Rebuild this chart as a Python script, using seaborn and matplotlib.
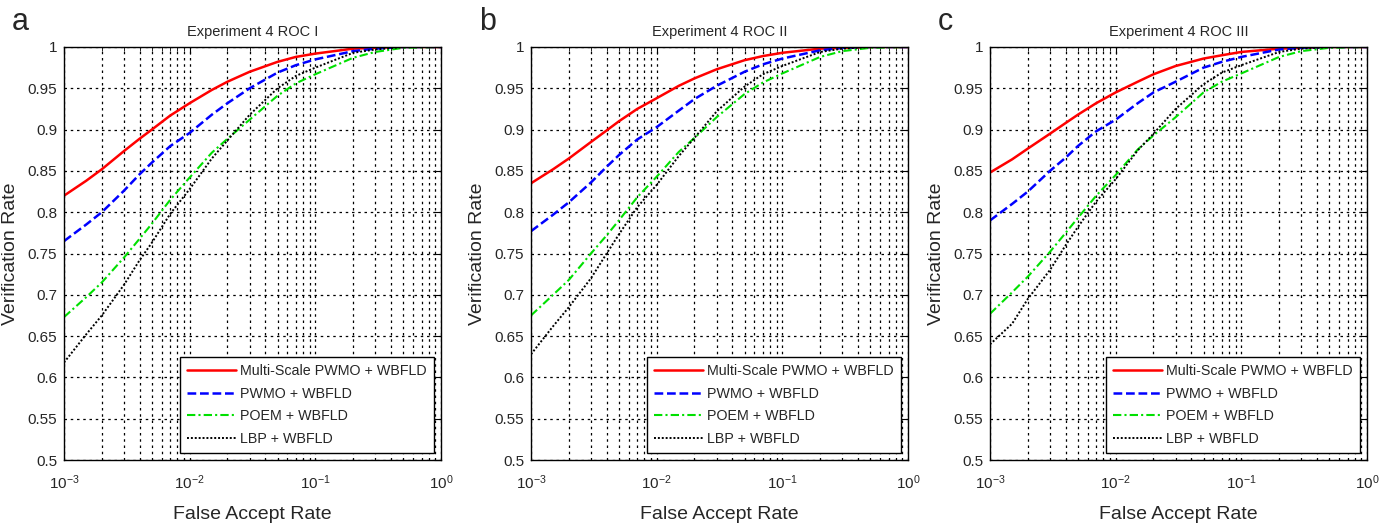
import numpy as np
import pandas as pd
import matplotlib
matplotlib.use("Agg")
import matplotlib.pyplot as plt
import seaborn as sns
from matplotlib.ticker import LogLocator, FixedLocator, FormatStrFormatter

# Valores (FAR en escala log)
far = [1e-3, 1.5e-3, 2e-3, 3e-3, 4e-3, 5e-3, 7e-3, 1e-2, 1.5e-2, 2e-2,
       3e-2, 5e-2, 7e-2, 1e-1, 2e-1, 3e-1, 5e-1, 1.0]

methods = ["Multi-Scale PWMO + WBFLD", "PWMO + WBFLD", "POEM + WBFLD", "LBP + WBFLD"]
titles = ["Experiment 4 ROC I", "Experiment 4 ROC II", "Experiment 4 ROC III"]
letters = ["a", "b", "c"]

# ROC I
roc1_multi = [0.820, 0.838, 0.852, 0.874, 0.889, 0.900, 0.917, 0.932, 0.948, 0.958,
              0.970, 0.982, 0.988, 0.992, 0.998, 0.999, 1.0, 1.0]
roc1_pwmo = [0.765, 0.785, 0.800, 0.826, 0.846, 0.860, 0.880, 0.896, 0.918, 0.932,
             0.950, 0.969, 0.978, 0.985, 0.995, 0.998, 1.0, 1.0]
roc1_poem = [0.673, 0.697, 0.715, 0.745, 0.768, 0.786, 0.815, 0.842, 0.872, 0.889,
             0.912, 0.941, 0.956, 0.967, 0.987, 0.994, 0.999, 1.0]
roc1_lbp = [0.618, 0.652, 0.675, 0.712, 0.742, 0.763, 0.798, 0.828, 0.865, 0.887,
            0.918, 0.950, 0.965, 0.975, 0.993, 0.997, 1.0, 1.0]

# ROC II
roc2_multi = [0.835, 0.852, 0.865, 0.885, 0.899, 0.910, 0.925, 0.938, 0.953, 0.962,
              0.973, 0.984, 0.989, 0.993, 0.998, 0.999, 1.0, 1.0]
roc2_pwmo = [0.777, 0.797, 0.812, 0.836, 0.855, 0.869, 0.888, 0.903, 0.923, 0.937,
             0.953, 0.970, 0.979, 0.986, 0.996, 0.999, 1.0, 1.0]
roc2_poem = [0.675, 0.700, 0.718, 0.750, 0.772, 0.790, 0.818, 0.843, 0.873, 0.890,
             0.915, 0.943, 0.957, 0.968, 0.988, 0.995, 0.999, 1.0]
roc2_lbp = [0.628, 0.662, 0.685, 0.720, 0.750, 0.773, 0.806, 0.833, 0.868, 0.890,
            0.922, 0.952, 0.967, 0.977, 0.994, 0.998, 1.0, 1.0]

# ROC III
roc3_multi = [0.848, 0.864, 0.877, 0.895, 0.908, 0.918, 0.932, 0.945, 0.958, 0.967,
              0.977, 0.986, 0.990, 0.994, 0.998, 0.999, 1.0, 1.0]
roc3_pwmo = [0.790, 0.810, 0.825, 0.850, 0.866, 0.880, 0.898, 0.912, 0.932, 0.945,
             0.958, 0.975, 0.982, 0.988, 0.997, 0.999, 1.0, 1.0]
roc3_poem = [0.677, 0.703, 0.722, 0.752, 0.775, 0.793, 0.820, 0.845, 0.876, 0.893,
             0.915, 0.945, 0.958, 0.968, 0.988, 0.995, 0.999, 1.0]
roc3_lbp = [0.640, 0.665, 0.695, 0.730, 0.760, 0.782, 0.813, 0.840, 0.875, 0.895,
            0.925, 0.955, 0.969, 0.978, 0.994, 0.998, 1.0, 1.0]

y_ticks = [0.5, 0.55, 0.6, 0.65, 0.7, 0.75, 0.8, 0.85, 0.9, 0.95, 1.0]

panels = [
    [roc1_multi, roc1_pwmo, roc1_poem, roc1_lbp],
    [roc2_multi, roc2_pwmo, roc2_poem, roc2_lbp],
    [roc3_multi, roc3_pwmo, roc3_poem, roc3_lbp],
]

sns.set_style("white")
wide = ["Liberation Sans", "DejaVu Sans"]
plt.rcParams["font.family"] = wide
plt.rcParams["mathtext.fontset"] = "custom"
plt.rcParams["mathtext.rm"] = "Liberation Sans"
plt.rcParams["mathtext.it"] = "Liberation Sans"

colors = ["#ff0000", "#0000ff", "#00e000", "#000000"]
styles = ["-", (0, (3.5, 1.5)), (0, (4, 1.5, 1, 1.5)), (0, (1, 1))]
widths = [1.8, 1.8, 1.5, 1.4]

fig = plt.figure(figsize=(13.87, 5.26), dpi=100)
lefts = [64, 531, 990]

for i, series in enumerate(panels):
    ax = fig.add_axes([lefts[i] / 1387, 66 / 526, 377 / 1387, 413 / 526])
    df = pd.DataFrame({"far": far})
    for j, vals in enumerate(series):
        df[methods[j]] = vals
        sns.lineplot(x="far", y=methods[j], data=df, ax=ax, color=colors[j],
                     linestyle=styles[j], linewidth=widths[j], label=methods[j])

    ax.set_xscale("log")
    ax.set_xlim(1e-3, 1)
    ax.set_ylim(0.5, 1)
    ax.yaxis.set_major_locator(FixedLocator(y_ticks))
    ax.yaxis.set_major_formatter(FormatStrFormatter("%g"))
    ax.xaxis.set_major_locator(LogLocator(base=10, numticks=10))
    ax.xaxis.set_minor_locator(LogLocator(base=10, subs=np.arange(2, 10), numticks=10))

    ax.grid(True, which="major", axis="both", color="black", linestyle=(0, (2, 3)), linewidth=0.9)
    ax.grid(True, which="minor", axis="x", color="black", linestyle=(0, (2, 3)), linewidth=0.9)
    ax.tick_params(which="both", direction="in", top=True, right=True, color="black")
    ax.tick_params(which="major", length=5, labelsize=11, pad=5)
    ax.tick_params(axis="x", which="major", pad=10)
    ax.tick_params(which="minor", length=3)
    for s in ax.spines.values():
        s.set_color("black")
        s.set_linewidth(1.0)

    ax.set_title(titles[i], fontsize=10.5, pad=8)
    ax.set_xlabel("False Accept Rate", fontsize=14, labelpad=10)
    ax.set_ylabel("Verification Rate", fontsize=14, labelpad=6)

    leg = ax.legend(loc="lower right", fontsize=10.3, frameon=True, fancybox=False,
                    edgecolor="black", framealpha=1, borderaxespad=0.5,
                    handlelength=3.4, handletextpad=0.3, labelspacing=0.6,
                    borderpad=0.5)
    leg.get_frame().set_linewidth(1.0)

    fig.text((lefts[i] - 52) / 1387, 1 - 22 / 526, letters[i], fontsize=22,
             va="center", ha="left")

fig.savefig("out.png", dpi=100)
